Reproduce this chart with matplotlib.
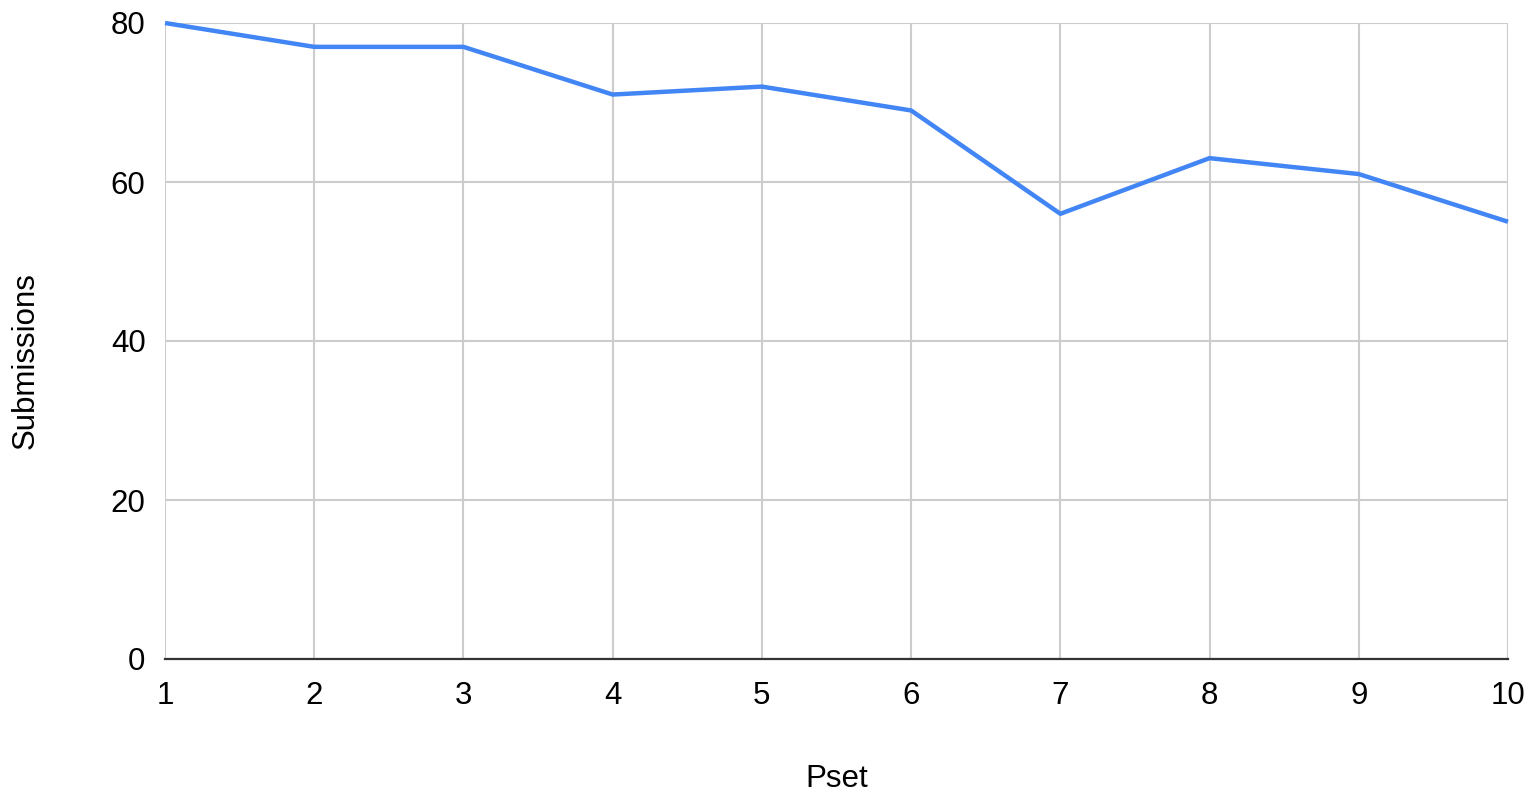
import matplotlib
matplotlib.use("Agg")
import matplotlib.pyplot as plt

plt.rcParams['font.family'] = ['Liberation Sans', 'DejaVu Sans']

psets = [1, 2, 3, 4, 5, 6, 7, 8, 9, 10]
submissions = [80, 77, 77, 71, 72, 69, 56, 63, 61, 55]
y_ticks = [0, 20, 40, 60, 80]

W, H = 1529, 795
fig = plt.figure(figsize=(W/100, H/100), dpi=100)
ax = fig.add_axes([165/W, 1 - 659/H, (1508-165)/W, (659-23)/H])

ax.plot(psets, submissions, color='#4285F4', linewidth=3.2, solid_capstyle='butt', zorder=3, clip_on=False)

ax.set_xlim(1, 10)
ax.set_ylim(0, 80)
ax.set_xticks(psets)
ax.set_yticks(y_ticks)
ax.grid(True, color='#cccccc', linewidth=1.5)
ax.set_axisbelow(True)
for s in ['top', 'right', 'left']:
    ax.spines[s].set_visible(False)
ax.spines['bottom'].set_color('#333333')
ax.spines['bottom'].set_linewidth(1.6)
ax.spines['bottom'].set_zorder(4)
ax.tick_params(axis='both', length=0, labelsize=22.5, colors='black')
ax.tick_params(axis='x', pad=16)
ax.tick_params(axis='y', pad=14)

fig.text(837/W, 1 - 779/H, 'Pset', fontsize=22.5, ha='center', va='center')
fig.text(26/W, 1 - 361/H, 'Submissions', fontsize=22.5, ha='center', va='center', rotation=90)

fig.savefig('out.png', dpi=100)
